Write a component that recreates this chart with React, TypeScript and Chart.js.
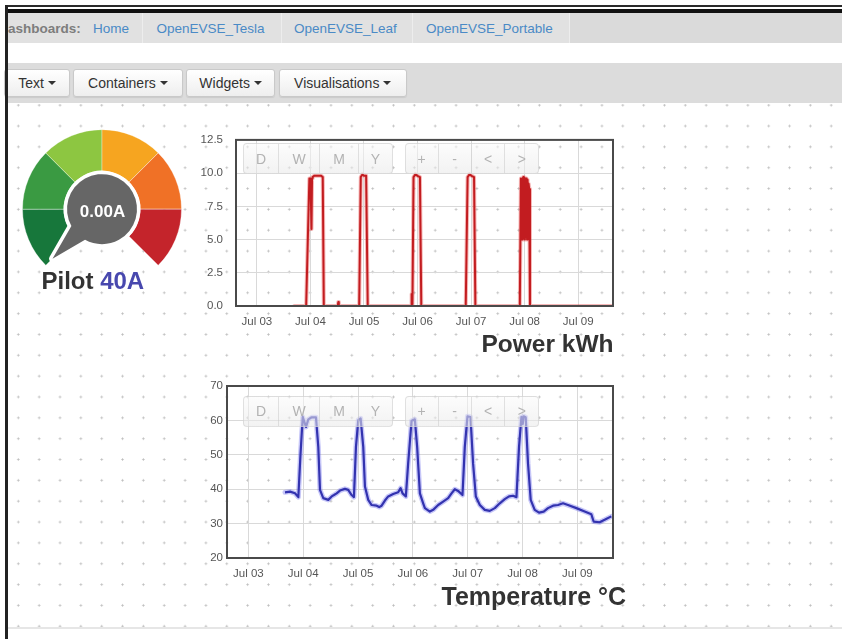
import React, { useEffect, useRef } from 'react';
import { Chart, registerables } from 'chart.js';

Chart.register(...registerables);

const FONT = '"Liberation Sans", Arial, Helvetica, sans-serif';
Chart.defaults.font.family = FONT;

// ---------- data ----------
const dayLabels = ['Jul 03', 'Jul 04', 'Jul 05', 'Jul 06', 'Jul 07', 'Jul 08', 'Jul 09'];
const xRangeDays = [-0.39, 6.65];

const powerDays = [0.70, 0.92, 0.98, 1.00, 1.02, 1.03, 1.04, 1.07, 1.12, 1.20, 1.23, 1.25, 1.51, 1.52, 1.53, 1.91, 1.94, 1.97, 2.00, 2.04, 2.07, 2.88, 2.89, 2.905, 2.925, 2.96, 3.00, 3.045, 3.07, 3.90, 3.935, 3.97, 4.01, 4.055, 4.08, 4.91, 4.93, 4.945, 4.955, 4.965, 4.975, 4.985, 4.995, 5.005, 5.015, 5.025, 5.035, 5.045, 5.055, 5.065, 5.075, 5.085, 5.10, 6.65];
const powerKwh = [0, 0, 9.6, 9.6, 5.8, 9.6, 9.7, 9.8, 9.8, 9.8, 9.7, 0, 0, 0.3, 0, 0, 9.7, 9.9, 9.8, 9.8, 0, 0, 0.9, 0.1, 9.7, 9.9, 9.8, 9.7, 0, 0, 9.7, 9.9, 9.8, 9.7, 0, 0, 9.6, 5.0, 9.6, 5.0, 9.7, 5.1, 9.6, 5.0, 9.6, 5.2, 9.6, 5.0, 9.5, 6.4, 9.2, 8.8, 0, 0];
const powerTicks = [0, 12.5, 2.5];

const tempDays = [0.668, 0.760, 0.851, 0.911, 0.950, 0.991, 1.051, 1.093, 1.155, 1.233, 1.275, 1.306, 1.366, 1.457, 1.519, 1.561, 1.610, 1.670, 1.761, 1.821, 1.883, 1.925, 1.962, 2.004, 2.047, 2.095, 2.126, 2.186, 2.248, 2.339, 2.386, 2.430, 2.490, 2.550, 2.641, 2.732, 2.776, 2.812, 2.872, 2.914, 2.976, 3.036, 3.078, 3.128, 3.188, 3.219, 3.310, 3.370, 3.461, 3.552, 3.643, 3.705, 3.765, 3.825, 3.905, 3.947, 3.996, 4.051, 4.098, 4.148, 4.221, 4.311, 4.403, 4.494, 4.585, 4.676, 4.754, 4.827, 4.889, 4.936, 4.980, 5.004, 5.020, 5.058, 5.100, 5.149, 5.222, 5.301, 5.386, 5.464, 5.556, 5.647, 5.738, 5.829, 5.982, 6.133, 6.255, 6.297, 6.406, 6.497, 6.619];
const tempC = [39.1, 39.3, 38.8, 37.7, 50.0, 61.0, 58.1, 60.3, 60.9, 60.9, 52.3, 39.8, 37.4, 36.9, 37.9, 38.3, 38.8, 39.6, 40.1, 39.8, 38.3, 37.7, 52.3, 60.1, 60.6, 52.3, 40.8, 36.9, 35.4, 35.2, 34.8, 35.2, 36.7, 37.9, 38.6, 39.1, 40.3, 38.8, 37.9, 47.5, 59.9, 60.3, 52.3, 38.8, 35.9, 34.5, 33.5, 34.0, 35.4, 36.4, 37.4, 38.8, 40.0, 39.5, 38.3, 52.3, 61.2, 61.0, 47.5, 37.9, 35.4, 34.0, 33.7, 34.5, 35.9, 37.1, 37.9, 38.1, 37.7, 52.3, 61.0, 59.0, 61.2, 60.9, 47.5, 36.9, 34.0, 33.2, 33.5, 34.5, 35.2, 35.4, 35.9, 35.4, 34.5, 33.5, 32.7, 30.6, 30.4, 31.1, 32.1];
const tempTicks = [20, 70, 10];

const gaugeBands = [1, 1, 1, 1, 1, 1];
const gaugeValue = 0.0;
const gaugeMax = 40;
const gaugeValueText = '0.00A';
const gaugeTitle = 'Pilot';
const gaugeSubtitle = '40A';

const navLead = 'Dashboards:';
const navHome = 'Home';
const navTabs = ['OpenEVSE_Tesla', 'OpenEVSE_Leaf', 'OpenEVSE_Portable'];
const toolbarMenus = ['Text', 'Containers', 'Widgets', 'Visualisations'];
const rangeButtons = ['D', 'W', 'M', 'Y'];
const panButtons = ['+', '-', '<', '>'];
const powerTitle = 'Power kWh';
const tempTitle = 'Temperature °C';

// ---------- styles ----------
const gaugeColors = ['#17773b', '#3a9a42', '#8dc641', '#f6a520', '#f07126', '#c4242b'];

function makeFrame(color: string, width: number) {
  return {
    id: 'frame',
    afterDatasetsDraw(chart: any) {
      const { ctx, chartArea: a } = chart;
      ctx.save();
      ctx.strokeStyle = color;
      ctx.lineWidth = width;
      ctx.strokeRect(a.left, a.top, a.right - a.left, a.bottom - a.top);
      ctx.restore();
    },
  };
}

type TCProps = {
  left: number; top: number; width: number; height: number;
  xs: number[]; ys: number[]; yTicks: number[]; dec: number;
  yAxisWidth: number; yPad: number; padTop: number; padRight: number; xAxisHeight: number;
  core: string; halo: string; coreW: number; haloW: number;
};

function TimeChart(p: TCProps) {
  const ref = useRef<HTMLCanvasElement>(null);
  useEffect(() => {
    const pts = p.xs.map((x, i) => ({ x, y: p.ys[i] }));
    const tickFont = { size: 11.5, family: FONT };
    const chart = new Chart(ref.current as HTMLCanvasElement, {
      type: 'line',
      data: {
        datasets: [
          { data: pts, borderColor: p.halo, borderWidth: p.haloW, pointRadius: 0, tension: 0, borderJoinStyle: 'round', borderCapStyle: 'round' } as any,
          { data: pts, borderColor: p.core, borderWidth: p.coreW, pointRadius: 0, tension: 0, borderJoinStyle: 'round' } as any,
        ],
      },
      options: {
        animation: false,
        responsive: false,
        maintainAspectRatio: false,
        devicePixelRatio: 1,
        layout: { padding: { top: p.padTop, right: p.padRight, left: 0, bottom: 0 } },
        plugins: { legend: { display: false }, tooltip: { enabled: false } },
        scales: {
          x: {
            type: 'linear',
            min: xRangeDays[0],
            max: xRangeDays[1],
            afterBuildTicks: (s: any) => { s.ticks = dayLabels.map((_, i) => ({ value: i })); },
            afterFit: (s: any) => { s.height = p.xAxisHeight; },
            ticks: { callback: (_v: any, i: number) => dayLabels[i], color: '#555', font: tickFont, padding: 9, maxRotation: 0, autoSkip: false },
            grid: { color: '#d9d9d9', lineWidth: 1, drawTicks: false },
            border: { display: false },
          },
          y: {
            type: 'linear',
            min: p.yTicks[0],
            max: p.yTicks[1],
            afterFit: (s: any) => { s.width = p.yAxisWidth; },
            ticks: { stepSize: p.yTicks[2], callback: (v: any) => Number(v).toFixed(p.dec), color: '#555', font: tickFont, padding: p.yPad },
            grid: { color: '#d9d9d9', lineWidth: 1, drawTicks: false },
            border: { display: false },
          },
        },
      } as any,
      plugins: [makeFrame('#4a4a4a', 2)],
    });
    return () => chart.destroy();
  }, []);
  return <canvas ref={ref} width={p.width} height={p.height} style={{ position: 'absolute', left: p.left, top: p.top, width: p.width, height: p.height }} />;
}

const hubPlugin = {
  id: 'hub',
  afterDatasetsDraw(chart: any) {
    const arc = chart.getDatasetMeta(0).data[0];
    const cx = arc.x, cy = arc.y;
    const r = 35;
    const ang = (-225 + 270 * (gaugeValue / gaugeMax)) * Math.PI / 180;
    const spread = 16 * Math.PI / 180;
    const tipR = 70;
    const ctx = chart.ctx;
    ctx.save();
    ctx.beginPath();
    ctx.arc(cx, cy, r, ang + spread, ang - spread + 2 * Math.PI);
    ctx.lineTo(cx + tipR * Math.cos(ang), cy + tipR * Math.sin(ang));
    ctx.closePath();
    ctx.lineJoin = 'round';
    ctx.strokeStyle = '#fff';
    ctx.lineWidth = 7;
    ctx.stroke();
    ctx.fillStyle = '#666';
    ctx.fill();
    ctx.restore();
  },
};

function Gauge() {
  const ref = useRef<HTMLCanvasElement>(null);
  useEffect(() => {
    const chart = new Chart(ref.current as HTMLCanvasElement, {
      type: 'doughnut',
      data: {
        labels: gaugeBands.map((_, i) => String(i)),
        datasets: [{ data: gaugeBands, backgroundColor: gaugeColors, borderWidth: 1, borderColor: 'rgba(255,255,255,0.35)' }],
      },
      options: {
        animation: false,
        responsive: false,
        maintainAspectRatio: false,
        devicePixelRatio: 1,
        rotation: -135,
        circumference: 270,
        cutout: '48%',
        layout: { padding: 0 },
        plugins: { legend: { display: false }, tooltip: { enabled: false } },
      } as any,
      plugins: [hubPlugin],
    });
    return () => chart.destroy();
  }, []);
  return <canvas ref={ref} width={160} height={137} style={{ position: 'absolute', left: 22, top: 129, width: 160, height: 137 }} />;
}

// text with baseline at y
function T(props: { x: number; y: number; size: number; color: string; weight?: any; align?: 'left' | 'right' | 'center'; children: any }) {
  const { x, y, size, color, weight, align, children } = props;
  const top = y - (size / 2 + 0.3465 * size);
  const tx = align === 'right' ? 'translateX(-100%)' : align === 'center' ? 'translateX(-50%)' : undefined;
  return (
    <div style={{ position: 'absolute', left: x, top, fontSize: size, lineHeight: size + 'px', height: size, color, fontWeight: weight || 'normal', whiteSpace: 'nowrap', transform: tx, fontFamily: FONT }}>
      {children}
    </div>
  );
}

function ButtonGroup({ left, top, widths, labels }: { left: number; top: number; widths: number[]; labels: string[] }) {
  let x = left;
  return (
    <>
      {labels.map((lab, i) => {
        const l = x;
        x += widths[i];
        const first = i === 0, last = i === labels.length - 1;
        return (
          <div key={i} style={{
            position: 'absolute', left: l, top, width: widths[i], height: 31, boxSizing: 'border-box',
            background: 'linear-gradient(rgba(250,250,250,0.55), rgba(232,232,232,0.55))',
            border: '1px solid rgba(200,200,200,0.5)', borderLeftWidth: first ? 1 : 0,
            borderRadius: `${first ? 4 : 0}px ${last ? 4 : 0}px ${last ? 4 : 0}px ${first ? 4 : 0}px`,
            display: 'flex', alignItems: 'center', justifyContent: 'center',
            color: '#b3b3b3', fontSize: 14, fontFamily: FONT,
          }}>{lab}</div>
        );
      })}
    </>
  );
}

const toolbarRects = [[4, 66], [73.3, 109.3], [185.8, 89.7], [279, 127.5]];
const tabTextX = [156.5, 294, 426];
const tabSeps = [142, 281, 412, 569];

export default function App() {
  useEffect(() => {
    document.body.style.margin = '0';
  }, []);
  const dotBg = 'radial-gradient(circle at 50% 50%, #bdbdbd 0, #bdbdbd 0.8px, rgba(255,255,255,0) 1.4px)';
  return (
    <div style={{ position: 'fixed', left: 0, top: 0, width: 842, height: 639, background: '#fff', overflow: 'hidden', fontFamily: FONT }}>
      {/* outer frame top line and black bar */}
      <div style={{ position: 'absolute', left: 5, top: 5, width: 837, height: 2, background: '#2a2a2a' }} />
      <div style={{ position: 'absolute', left: 8, top: 9, width: 834, height: 3.5, background: '#111' }} />

      {/* nav bar */}
      <div style={{ position: 'absolute', left: 8, top: 12.5, width: 834, height: 30.5, background: '#dadada' }} />
      <div style={{ position: 'absolute', left: 8, top: 12.5, width: 561, height: 30.5, background: '#e1e1e1' }} />
      {tabSeps.map((sx, i) => (
        <div key={i} style={{ position: 'absolute', left: sx, top: 12.5, width: 1, height: 30.5, background: '#ededed' }} />
      ))}
      <div style={{ position: 'absolute', left: 8, top: 12.5, width: 90, height: 30.5, overflow: 'hidden' }}>
        <T x={-9.75} y={20.5} size={13.5} color="#7d7d7d" weight="bold">{navLead}</T>
      </div>
      <T x={93} y={33} size={13.5} color="#4a8ac6">{navHome}</T>
      {navTabs.map((t, i) => (
        <T key={t} x={tabTextX[i]} y={33} size={13.5} color="#4a8ac6">{t}</T>
      ))}

      {/* toolbar */}
      <div style={{ position: 'absolute', left: 8, top: 63, width: 834, height: 40, background: '#dcdcdc' }} />
      {toolbarMenus.map((m, i) => (
        <div key={m} style={{
          position: 'absolute', left: toolbarRects[i][0], top: 69, width: toolbarRects[i][1], height: 28, boxSizing: 'border-box',
          background: 'linear-gradient(#ffffff, #eeeeee)', border: '1px solid #c9c9c9', borderRadius: 3,
          boxShadow: '0 1px 1px rgba(0,0,0,0.08)', display: 'flex', alignItems: 'center', justifyContent: 'center',
          color: '#333', fontSize: 14, fontFamily: FONT, whiteSpace: 'nowrap',
        }}>
          {m}
          <span style={{ display: 'inline-block', width: 0, height: 0, marginLeft: 4, borderTop: '4px solid #333', borderLeft: '4px solid transparent', borderRight: '4px solid transparent' }} />
        </div>
      ))}

      {/* content area with dotted grid */}
      <div style={{
        position: 'absolute', left: 8, top: 104, width: 834, height: 523,
        backgroundImage: dotBg, backgroundSize: '20.85px 20.85px', backgroundPosition: '-0.1px 11.6px',
      }} />
      <div style={{ position: 'absolute', left: 8, top: 627, width: 834, height: 1.5, background: '#e6e6e6' }} />

      {/* gauge */}
      <Gauge />
      <T x={102.5} y={217} size={17} color="#fff" weight="bold" align="center">{gaugeValueText}</T>
      <div style={{ position: 'absolute', left: 41.5, top: 289 - 24 * 0.8465, fontSize: 24, lineHeight: '24px', fontWeight: 'bold', whiteSpace: 'nowrap', fontFamily: FONT }}>
        <span style={{ color: '#333' }}>{gaugeTitle}</span>{' '}
        <span style={{ color: '#4848ae' }}>{gaugeSubtitle}</span>
      </div>

      {/* power chart */}
      <TimeChart left={180} top={120} width={450} height={225} xs={powerDays} ys={powerKwh} yTicks={powerTicks} dec={1}
        yAxisWidth={56} yPad={13} padTop={14} padRight={17} xAxisHeight={39}
        core="#b01217" halo="rgba(230,50,50,0.35)" coreW={2} haloW={4} />
      <ButtonGroup left={242.7} top={143} widths={[36.6, 40.7, 39.3, 33.4]} labels={rangeButtons} />
      <ButtonGroup left={404.7} top={143} widths={[34, 33, 33.6, 34]} labels={panButtons} />
      <T x={613.5} y={352.3} size={24.5} color="#333" weight="bold" align="right">{powerTitle}</T>

      {/* temperature chart */}
      <TimeChart left={180} top={375} width={450} height={225} xs={tempDays} ys={tempC} yTicks={tempTicks} dec={0}
        yAxisWidth={47} yPad={4} padTop={11} padRight={17} xAxisHeight={42}
        core="#1c1c90" halo="rgba(95,95,235,0.35)" coreW={2.2} haloW={5} />
      <ButtonGroup left={242.7} top={395.7} widths={[36.6, 40.7, 39.3, 33.4]} labels={rangeButtons} />
      <ButtonGroup left={404.7} top={395.7} widths={[34, 33, 33.6, 34]} labels={panButtons} />
      <T x={441.5} y={605} size={25} color="#333" weight="bold">{tempTitle}</T>

      {/* left window border */}
      <div style={{ position: 'absolute', left: 5, top: 5, width: 3, height: 634, background: '#222' }} />
    </div>
  );
}
